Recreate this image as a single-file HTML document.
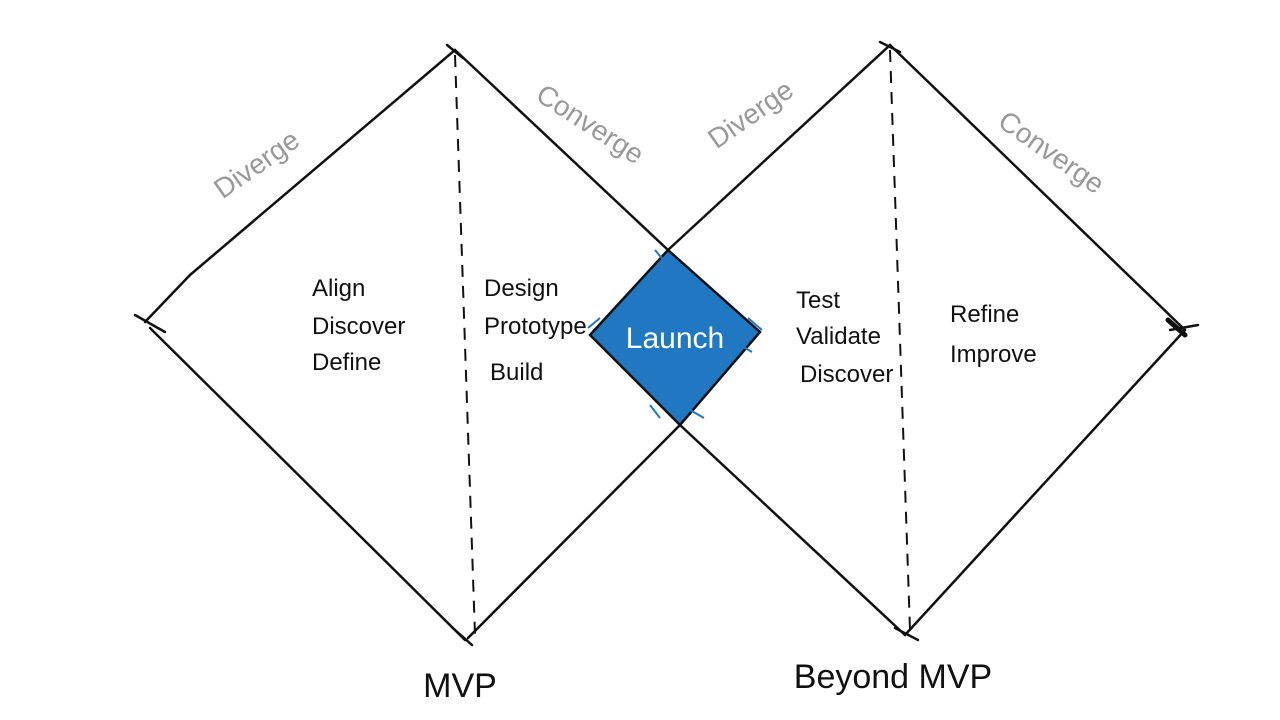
<!DOCTYPE html>
<html><head><meta charset="utf-8"><style>
html,body{margin:0;padding:0;background:#fff;}
svg{display:block}
text{font-family:"Liberation Sans",sans-serif;}
</style></head><body>
<svg width="1280" height="720" viewBox="0 0 1280 720" xmlns="http://www.w3.org/2000/svg">
<g stroke="#111" stroke-width="2.5" fill="none" stroke-linecap="round">
  <!-- left diamond -->
  <path d="M447 45 L463 58"/>
  <path d="M455 50 L190 275"/>
  <path d="M190 275 L145 322"/>
  <path d="M135 315 L165 332"/>
  <path d="M150 328 L465 640"/>
  <path d="M455 630 L472 645"/>
  <path d="M468 638 L680 425"/>
  <path d="M455 50 L668 250"/>
  <!-- right diamond -->
  <path d="M880 42 L900 52"/>
  <path d="M890 45 L668 250"/>
  <path d="M890 45 L1185 330"/>
  <path d="M1170 330 L1198 325"/>
  <path d="M1185 330 L905 635"/>
  <path d="M895 628 L918 640"/>
  <path d="M905 635 L680 425"/>
  <path d="M1168 320 L1185 335" stroke-width="5"/>
</g>
<g stroke="#111" stroke-width="2" stroke-dasharray="12,9" fill="none">
  <path d="M455 55 L475 635"/>
  <path d="M890 50 L910 630"/>
</g>
<!-- launch square -->
<path d="M668 250 L760 332 L680 425 L590 335 Z" fill="#1f78c1" stroke="#111" stroke-width="2.5"/>
<g stroke="#1f78c1" stroke-width="2" fill="none">
  <path d="M600 318 L588 328"/><path d="M748 318 L762 330"/><path d="M690 410 L704 418"/><path d="M650 405 L660 418"/>
  <path d="M655 250 L665 262"/><path d="M740 345 L752 352"/>
</g>
<text x="675" y="348" font-size="30" fill="#fff" text-anchor="middle">Launch</text>
<!-- stage text -->
<g font-size="24" fill="#111">
  <text x="312" y="296">Align</text>
  <text x="312" y="334">Discover</text>
  <text x="312" y="370">Define</text>
  <text x="484" y="296">Design</text>
  <text x="484" y="334">Prototype</text>
  <text x="490" y="380">Build</text>
  <text x="796" y="308">Test</text>
  <text x="796" y="344">Validate</text>
  <text x="800" y="382">Discover</text>
  <text x="950" y="322">Refine</text>
  <text x="950" y="362">Improve</text>
</g>
<g font-size="28" fill="#999">
  <text transform="translate(262,172) rotate(-35)" text-anchor="middle">Diverge</text>
  <text transform="translate(585,132) rotate(33)" text-anchor="middle">Converge</text>
  <text transform="translate(756,122) rotate(-35)" text-anchor="middle">Diverge</text>
  <text transform="translate(1046,160) rotate(35)" text-anchor="middle">Converge</text>
</g>
<g font-size="34" fill="#111">
  <text x="460" y="697" text-anchor="middle">MVP</text>
  <text x="893" y="688" text-anchor="middle">Beyond MVP</text>
</g>
</svg>
</body></html>
